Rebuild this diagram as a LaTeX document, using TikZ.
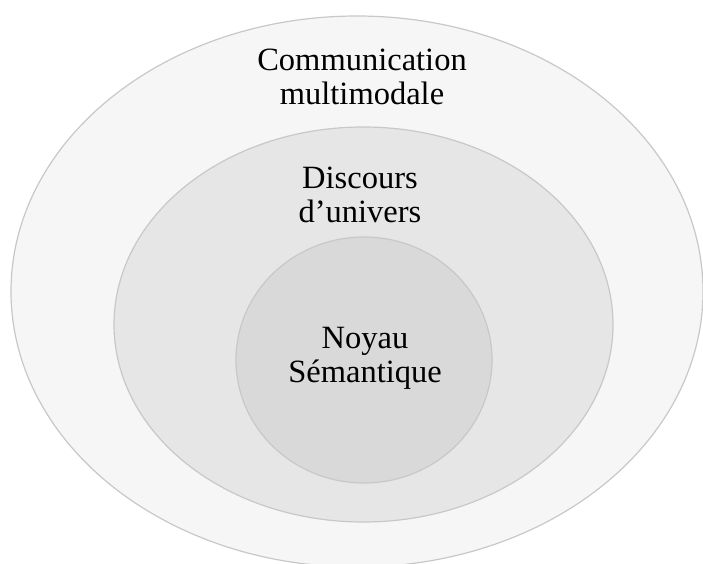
\documentclass[tikz,border=0pt]{standalone}
\usepackage{fontspec}
\setmainfont{Liberation Serif}
\usetikzlibrary{shapes.geometric}
\definecolor{ringOuter}{RGB}{246,246,246}
\definecolor{ringMiddle}{RGB}{230,230,230}
\definecolor{ringInner}{RGB}{217,217,217}
\definecolor{ringLine}{RGB}{200,200,200}
\tikzset{
  ring/.style={ellipse, draw=ringLine, line width=1.2pt, inner sep=0pt},
  label/.style={align=center, inner sep=0pt, anchor=base, text=black,
    font=\fontsize{32.5}{34}\selectfont}
}
\begin{document}
\begin{tikzpicture}[x=1pt,y=1pt]
  \useasboundingbox (0,0) rectangle (703,-564);
  \clip (0,0) rectangle (703,-564);
  \node[ring, fill=ringOuter, minimum width=692pt, minimum height=551pt] (outer) at (357,-291.5) {};
  \node[ring, fill=ringMiddle, minimum width=499pt, minimum height=395pt] (middle) at (363.5,-324.5) {};
  \node[ring, fill=ringInner, minimum width=256pt, minimum height=246pt] (inner) at (364,-360) {};
  \node[label] (tcomm) at (362,-105) {Communication\\multimodale};
  \node[label] (tdisc) at (360,-222) {Discours\\d’univers};
  \node[label] (tnoy) at (365,-382) {Noyau\\Sémantique};
\end{tikzpicture}
\end{document}
